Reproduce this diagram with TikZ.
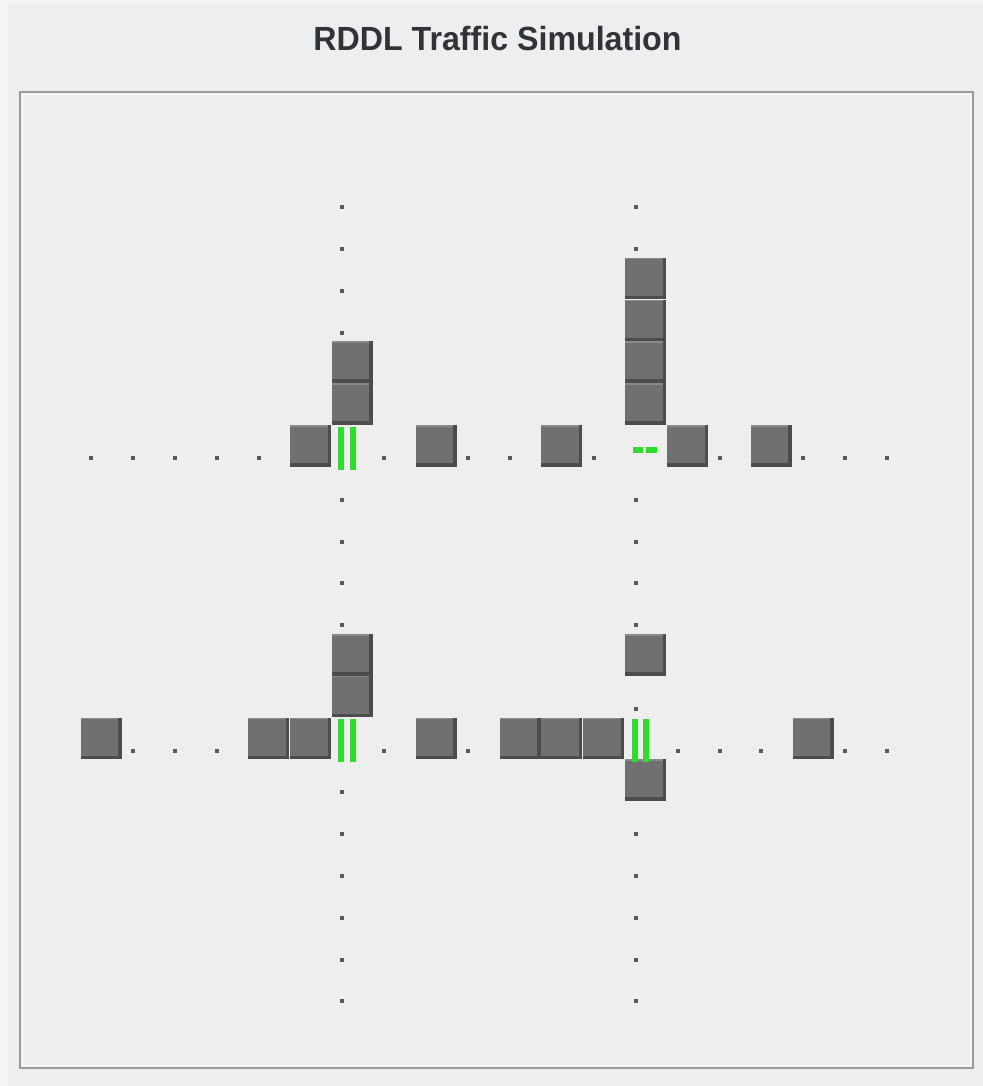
\documentclass[tikz,border=0pt]{standalone}
\usepackage{fontspec}
\setmainfont{Liberation Sans}
\definecolor{outerbg}{HTML}{F5F5F5}
\definecolor{panelbg}{HTML}{EEEEEE}
\definecolor{framec}{HTML}{9C9C9C}
\definecolor{carfill}{HTML}{707070}
\definecolor{cardark}{HTML}{4C4C4C}
\definecolor{carlight}{HTML}{8A8A8A}
\definecolor{dotc}{HTML}{5A5A5A}
\definecolor{sigc}{HTML}{2EDC2E}
\definecolor{titlec}{HTML}{303438}
\newcommand\carcell[2]{%
  \pgfmathsetmacro\cellx{80.5+41.9*#1}%
  \pgfmathsetmacro\celly{216+41.8*#2}%
  \fill[carfill] (\cellx,\celly) rectangle ++(41,41.5);
  \fill[cardark] (\cellx+37.5,\celly) rectangle ++(3.5,41.5);
  \fill[cardark] (\cellx,\celly+38) rectangle ++(41,3.5);
  \fill[carlight] (\cellx,\celly) rectangle ++(37.5,1.5);
}
\newcommand\dotcell[2]{%
  \pgfmathsetmacro\cellx{80.5+41.9*#1+10.5}%
  \pgfmathsetmacro\celly{216+41.8*#2+33}%
  \fill[dotc] (\cellx-2,\celly-2) rectangle ++(4,4);
}
\newcommand\vsignal[2]{%
  \pgfmathsetmacro\cellx{80.5+41.9*#1}%
  \pgfmathsetmacro\celly{216+41.8*#2}%
  \fill[sigc] (\cellx+6.5,\celly+1.5) rectangle ++(6,43);
  \fill[sigc] (\cellx+18,\celly+1.5) rectangle ++(6,43);
}
\newcommand\hsignal[2]{%
  \pgfmathsetmacro\cellx{80.5+41.9*#1}%
  \pgfmathsetmacro\celly{216+41.8*#2}%
  \fill[sigc] (\cellx+8,\celly+22) rectangle ++(10,6);
  \fill[sigc] (\cellx+21,\celly+22) rectangle ++(11,6);
}
\begin{document}
\begin{tikzpicture}[x=0.5pt,y=-0.5pt]
\useasboundingbox (0,0) rectangle (983,1086);
\fill[outerbg] (0,0) rectangle (983,1086);
\fill[panelbg] (8,3) rectangle (983,1086);
% frame
\draw[framec, line width=0.8pt] (20,92) rectangle (973,1068);
\draw[white, line width=0.4pt] (22.5,94.5) rectangle (970.5,1065.5);
% title
\node[anchor=base, text=titlec, font=\fontsize{16.75pt}{20pt}\selectfont\bfseries, xscale=0.96, inner sep=0pt] (title) at (497.5,51) {RDDL Traffic Simulation};
% dots on the rows
\foreach \k in {0,1,2,3,4,7,9,10,12,15,17,18,19} {\dotcell{\k}{5}}
\foreach \k in {1,2,3,7,9,14,15,16,18,19} {\dotcell{\k}{12}}
% dots on the columns
\foreach \j in {-1,0,1,2,6,7,8,9,13,14,15,16,17,18} {\dotcell{6}{\j}}
\foreach \j in {-1,0,6,7,8,9,11,14,15,16,17,18} {\dotcell{13}{\j}}
% cars on the rows
\foreach \k in {5,8,11,14,16} {\carcell{\k}{5}}
\foreach \k in {0,4,5,8,10,11,12,17} {\carcell{\k}{12}}
% cars on the columns
\foreach \j in {3,4,10,11} {\carcell{6}{\j}}
\foreach \j in {1,2,3,4,10,13} {\carcell{13}{\j}}
% signals
\vsignal{6}{5}
\vsignal{6}{12}
\vsignal{13}{12}
\hsignal{13}{5}
\end{tikzpicture}
\end{document}
